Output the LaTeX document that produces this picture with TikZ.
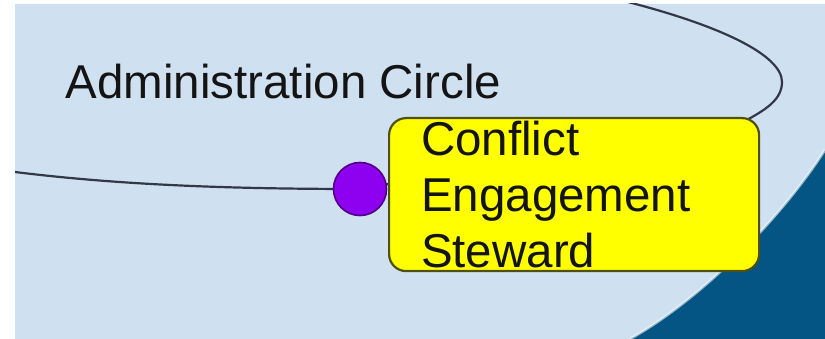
\documentclass[tikz,border=0pt]{standalone}
\usepackage{fontspec}
\setmainfont{Liberation Sans}
\usepackage{tikz}
\usetikzlibrary{positioning}
\definecolor{paleblue}{RGB}{207,224,241}
\definecolor{deepblue}{RGB}{5,85,132}
\definecolor{ringline}{RGB}{50,56,72}
\definecolor{rolefill}{RGB}{255,255,0}
\definecolor{roleedge}{RGB}{80,80,10}
\definecolor{knobfill}{RGB}{142,0,240}
\definecolor{knobedge}{RGB}{80,0,130}

\begin{document}
\begin{tikzpicture}[x=1pt, y=-1pt,
    every node/.style={font=\fontsize{47.5}{56}\selectfont, text=black!92},
    rolebox/.style={draw=roleedge, line width=2.2pt, fill=rolefill,
      rounded corners=17pt, minimum width=370pt, minimum height=153pt,
      text width=306pt, inner xsep=32pt, inner ysep=0pt, align=left},
    knob/.style={circle, draw=knobedge, line width=1.6pt, fill=knobfill,
      minimum size=53pt, inner sep=0pt}]
  \useasboundingbox (0,0) rectangle (825,339);
  % backdrop
  \fill[paleblue] (15,4) rectangle (825,339);
  \begin{scope}
    \clip (15,4) rectangle (825,339);
    \fill[deepblue] (630,339) .. controls (700,300) and (780,220) .. (825,150)
      -- (825,339) -- cycle;
    \draw[white, opacity=0.6, line width=2.5pt]
      (630,339) .. controls (700,300) and (780,220) .. (825,150);
    % the circle line
    \coordinate (ring-w) at (15,172);
    \coordinate (knob-c) at (360,189);
    \coordinate (ring-in) at (745,121);
    \coordinate (ring-e) at (782,82);
    \coordinate (ring-n) at (620,0);
    \draw[ringline, line width=2.2pt]
      (ring-w) .. controls (120,185) and (230,189) .. (knob-c) -- (ring-in)
      .. controls (765,110) and (782,100) .. (ring-e)
      .. controls (782,55) and (720,25) .. (ring-n);
  \end{scope}

  \node[anchor=base west] (title) at (62,99) {Administration Circle};
  \node[knob] (knob) at (knob-c) {};
  \node[rolebox, anchor=north west] (steward) at (388,117)
    {Conflict\\Engagement\\Steward};
\end{tikzpicture}
\end{document}
